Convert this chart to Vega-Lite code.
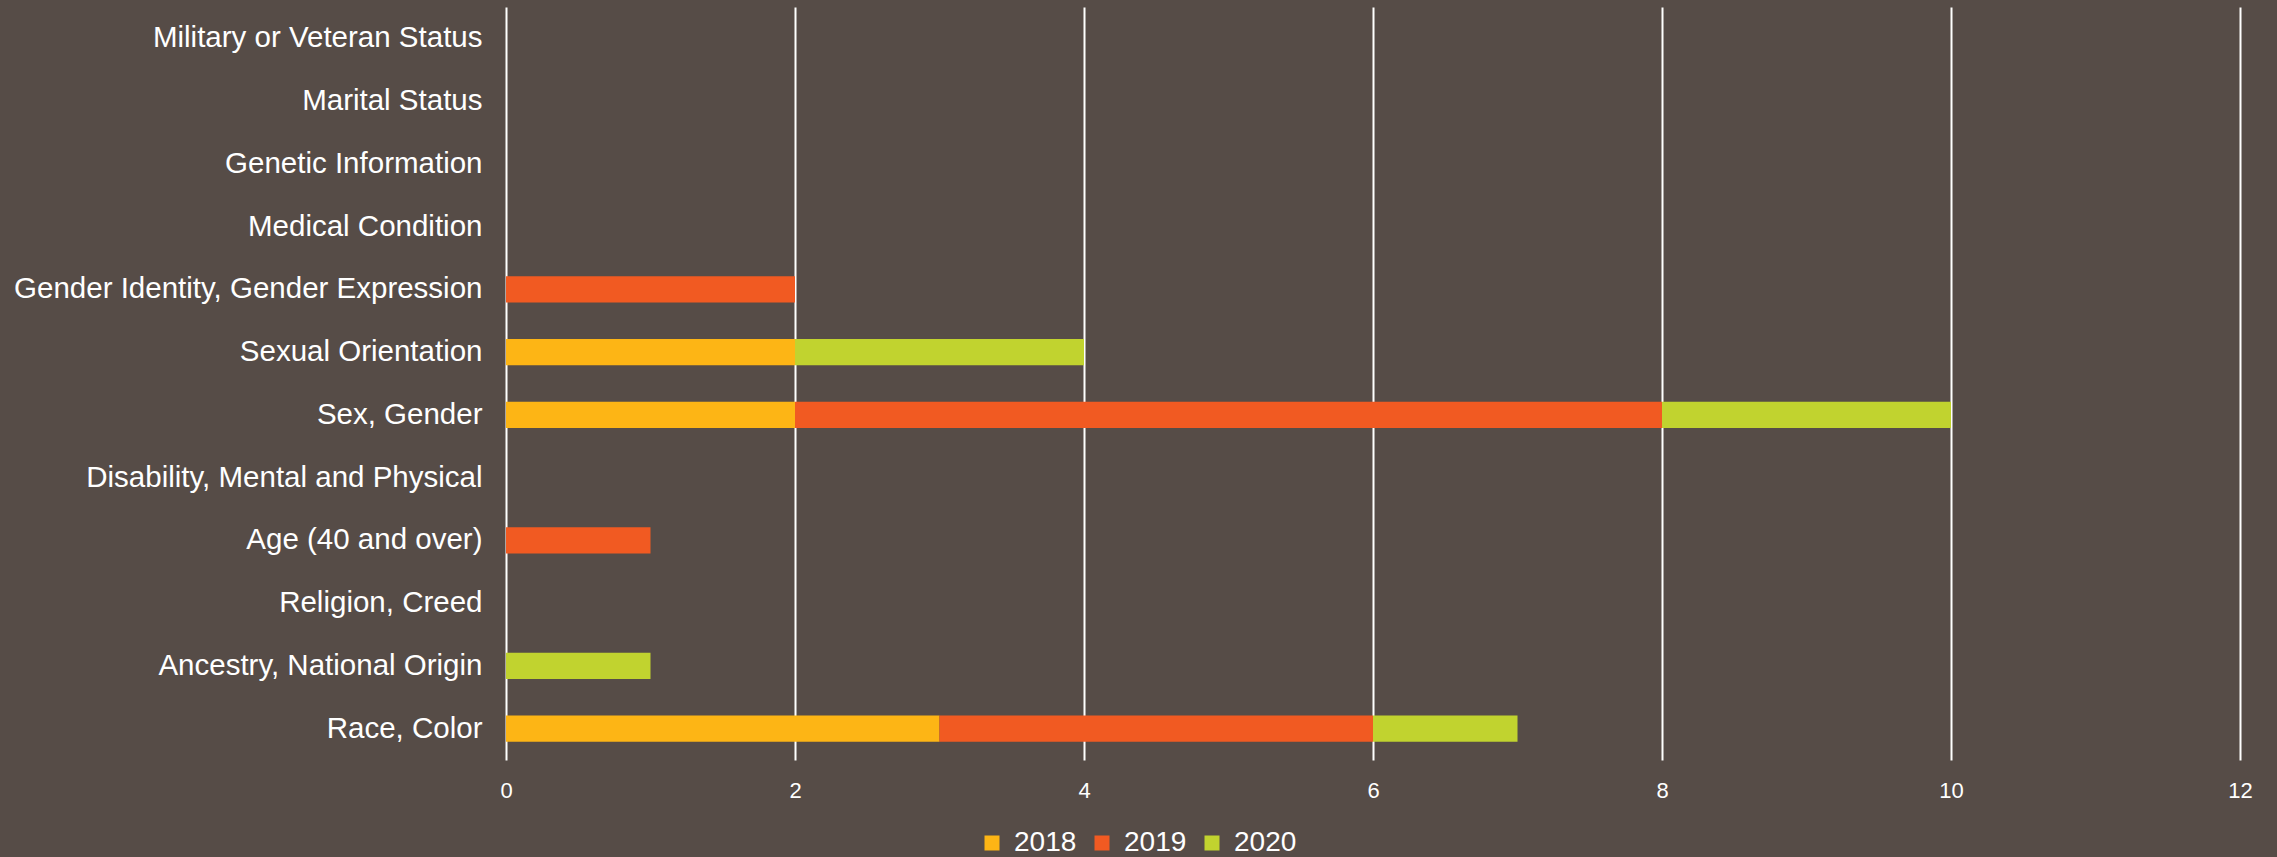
{
  "$schema": "https://vega.github.io/schema/vega-lite/v6.json",
  "autosize": {"type": "none"},
  "width": 1734,
  "height": 753,
  "padding": {"left": 506, "top": 7, "right": 37, "bottom": 97},
  "background": "#564C47",
  "config": {
    "view": {"stroke": null},
    "font": "Liberation Sans"
  },
  "data": {
    "values": [
      {"category": "Military or Veteran Status", "year": "2018", "count": 0},
      {"category": "Marital Status", "year": "2018", "count": 0},
      {"category": "Genetic Information", "year": "2018", "count": 0},
      {"category": "Medical Condition", "year": "2018", "count": 0},
      {"category": "Gender Identity, Gender Expression", "year": "2019", "count": 2},
      {"category": "Sexual Orientation", "year": "2018", "count": 2},
      {"category": "Sexual Orientation", "year": "2020", "count": 2},
      {"category": "Sex, Gender", "year": "2018", "count": 2},
      {"category": "Sex, Gender", "year": "2019", "count": 6},
      {"category": "Sex, Gender", "year": "2020", "count": 2},
      {"category": "Disability, Mental and Physical", "year": "2018", "count": 0},
      {"category": "Age (40 and over)", "year": "2019", "count": 1},
      {"category": "Religion, Creed", "year": "2018", "count": 0},
      {"category": "Ancestry, National Origin", "year": "2020", "count": 1},
      {"category": "Race, Color", "year": "2018", "count": 3},
      {"category": "Race, Color", "year": "2019", "count": 3},
      {"category": "Race, Color", "year": "2020", "count": 1}
    ]
  },
  "mark": {"type": "bar"},
  "encoding": {
    "y": {
      "field": "category",
      "type": "nominal",
      "sort": [
        "Military or Veteran Status",
        "Marital Status",
        "Genetic Information",
        "Medical Condition",
        "Gender Identity, Gender Expression",
        "Sexual Orientation",
        "Sex, Gender",
        "Disability, Mental and Physical",
        "Age (40 and over)",
        "Religion, Creed",
        "Ancestry, National Origin",
        "Race, Color"
      ],
      "scale": {"paddingInner": 0.585, "paddingOuter": 0.2925},
      "axis": {
        "title": null,
        "domain": false,
        "ticks": false,
        "labelPadding": 24,
        "labelFontSize": 29.5,
        "labelColor": "#FFFFFF",
        "labelFont": "Liberation Sans",
        "labelLimit": 600
      }
    },
    "x": {
      "field": "count",
      "type": "quantitative",
      "stack": "zero",
      "scale": {"domain": [0, 12], "nice": false},
      "axis": {
        "title": null,
        "values": [0, 2, 4, 6, 8, 10, 12],
        "domain": false,
        "ticks": false,
        "grid": true,
        "gridColor": "#FFFFFF",
        "gridWidth": 2,
        "gridOpacity": 1,
        "labelFlush": false,
        "labelPadding": 20,
        "labelFontSize": 22,
        "labelColor": "#FFFFFF",
        "labelFont": "Liberation Sans"
      }
    },
    "color": {
      "field": "year",
      "type": "nominal",
      "scale": {"domain": ["2018", "2019", "2020"], "range": ["#FDB515", "#F15A22", "#C1D32F"]},
      "legend": {
        "title": null,
        "orient": "none",
        "direction": "horizontal",
        "legendX": 472,
        "legendY": 822,
        "symbolType": "square",
        "symbolSize": 225,
        "symbolStrokeWidth": 0,
        "symbolOpacity": 1,
        "labelFontSize": 28,
        "labelColor": "#FFFFFF",
        "labelFont": "Liberation Sans",
        "labelOffset": 8,
        "columnPadding": 11
      }
    },
    "order": {"field": "year", "type": "nominal", "sort": "ascending"}
  }
}
